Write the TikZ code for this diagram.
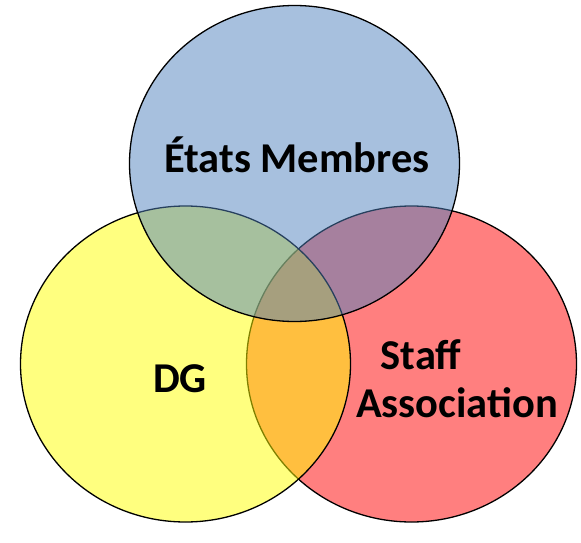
\documentclass[tikz,border=0pt]{standalone}
\usepackage{fontspec}
\setmainfont{Carlito}
\usetikzlibrary{shapes.geometric, positioning}

\begin{document}
\begin{tikzpicture}[x=1pt, y=-1pt,
  set/.style={ellipse, draw=black, line width=1.3pt, fill opacity=0.5,
    minimum width=330pt, minimum height=316pt, inner sep=0pt},
  setlabel/.style={font=\bfseries\fontsize{42.5}{46}\selectfont, inner sep=0pt}]
  \useasboundingbox (0,0) rectangle (581,543);
  \node[set, fill={rgb,255:red,255;green,0;blue,0}] (sa) at (411.5,364) {};
  \node[set, fill={rgb,255:red,255;green,255;blue,0}] (dg) at (185.5,364) {};
  \node[set, fill={rgb,255:red,79;green,129;blue,189}] (em) at (294.5,163.5) {};

  \node[setlabel] (emtext) at (297,155) {États Membres};
  \node[setlabel] (dgtext) at (180,379) {DG};
  \node[setlabel] (satext2) at (457,403) {Association};
  \node[setlabel] (satext1) at (421,355) {Staff};
\end{tikzpicture}
\end{document}
